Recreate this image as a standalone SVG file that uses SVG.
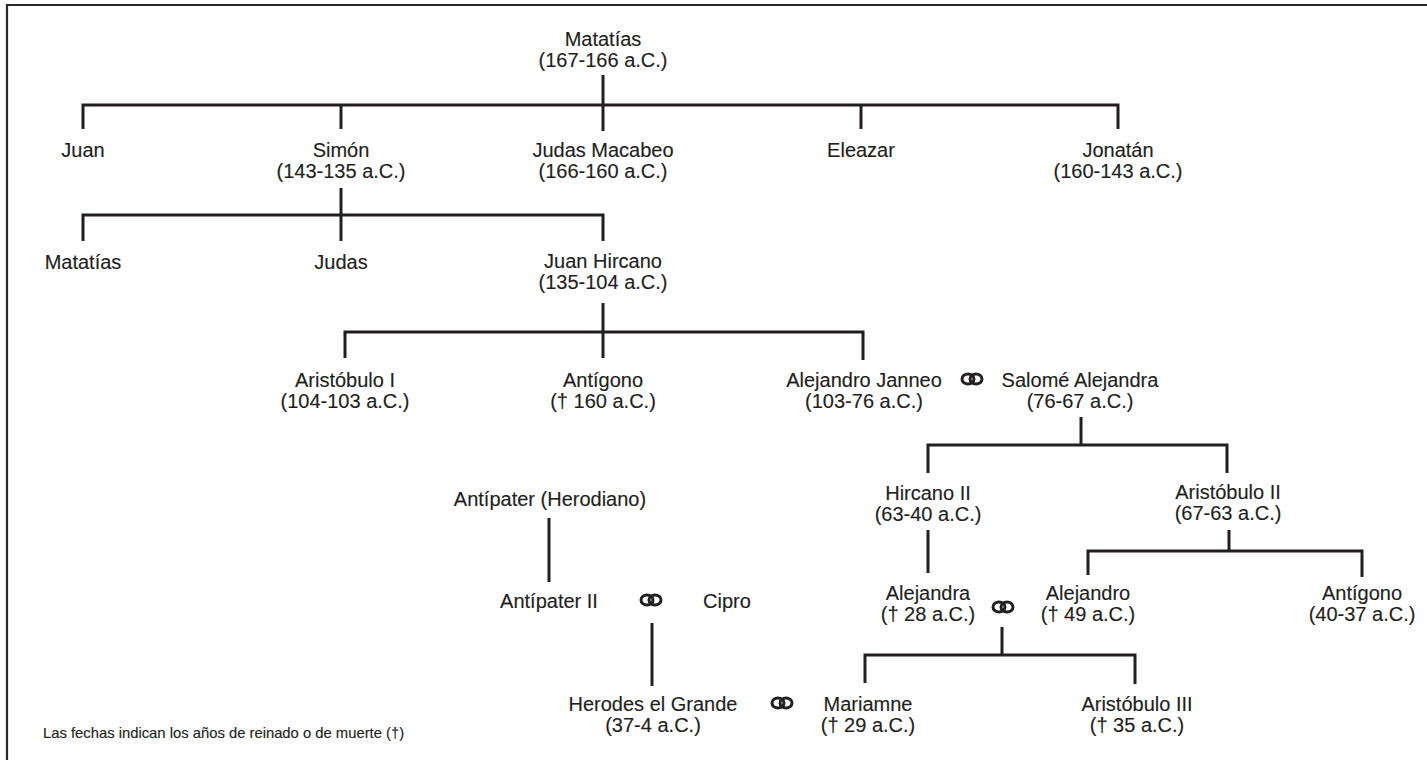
<svg xmlns="http://www.w3.org/2000/svg" width="1427" height="760" viewBox="0 0 1427 760">
<defs>
<style>
text{font-family:"Liberation Sans",Arial,sans-serif;font-size:20px;fill:#231f20;text-anchor:middle;stroke:#231f20;stroke-width:0.15}
.note{font-size:14.8px;text-anchor:start}
.c{fill:none;stroke:#231f20;stroke-width:3}
.frame{fill:none;stroke:#2a2a2a;stroke-width:2.2}
.ring{fill:none;stroke:#231f20;stroke-width:3}
</style>
<g id="rings-sym"><ellipse class="ring" cx="-4" cy="0" rx="6" ry="5"/><ellipse class="ring" cx="4" cy="0" rx="6" ry="5"/></g>
</defs>
<rect width="1427" height="760" fill="#fff"/>
<path class="frame" d="M7,762 V5 H1430"/>
<g id="connectors">
<path class="c" d="M603,75 V131"/>
<path class="c" d="M83,129 V105 H1118 V129"/>
<path class="c" d="M341,105 V129"/>
<path class="c" d="M861,105 V129"/>
<path class="c" d="M341,188 V241"/>
<path class="c" d="M83,241 V215 H603 V241"/>
<path class="c" d="M603,303 V358"/>
<path class="c" d="M345,358 V332 H863 V360"/>
<path class="c" d="M1081,417 V445"/>
<path class="c" d="M928,473 V445 H1227 V473"/>
<path class="c" d="M928,530 V573"/>
<path class="c" d="M1229,530 V551"/>
<path class="c" d="M1088,575 V551 H1362 V577"/>
<path class="c" d="M549,518 V582"/>
<path class="c" d="M652,623 V686"/>
<path class="c" d="M1002,627 V655"/>
<path class="c" d="M865,683 V655 H1135 V684"/>
</g>
<g id="matatias"><text x="603" y="46">Matatías</text><text x="603" y="67">(167-166 a.C.)</text></g>
<g id="juan"><text x="83" y="157">Juan</text></g>
<g id="simon"><text x="341" y="157">Simón</text><text x="341" y="178">(143-135 a.C.)</text></g>
<g id="judas-macabeo"><text x="603" y="157">Judas Macabeo</text><text x="603" y="178">(166-160 a.C.)</text></g>
<g id="eleazar"><text x="861" y="157">Eleazar</text></g>
<g id="jonatan"><text x="1118" y="157">Jonatán</text><text x="1118" y="178">(160-143 a.C.)</text></g>
<g id="matatias2"><text x="83" y="269">Matatías</text></g>
<g id="judas"><text x="341" y="269">Judas</text></g>
<g id="juan-hircano"><text x="603" y="268">Juan Hircano</text><text x="603" y="289">(135-104 a.C.)</text></g>
<g id="aristobulo1"><text x="345" y="387">Aristóbulo I</text><text x="345" y="408">(104-103 a.C.)</text></g>
<g id="antigono1"><text x="603" y="387">Antígono</text><text x="603" y="408">(† 160 a.C.)</text></g>
<g id="alejandro-janneo"><text x="864" y="387">Alejandro Janneo</text><text x="864" y="408">(103-76 a.C.)</text></g>
<g id="m1"><use href="#rings-sym" x="972" y="379"/></g>
<g id="salome"><text x="1080" y="387">Salomé Alejandra</text><text x="1080" y="408">(76-67 a.C.)</text></g>
<g id="hircano2"><text x="928" y="500">Hircano II</text><text x="928" y="521">(63-40 a.C.)</text></g>
<g id="aristobulo2"><text x="1228" y="499">Aristóbulo II</text><text x="1228" y="520">(67-63 a.C.)</text></g>
<g id="antipater"><text x="550" y="506">Antípater (Herodiano)</text></g>
<g id="antipater2"><text x="549" y="608">Antípater II</text></g>
<g id="m2"><use href="#rings-sym" x="651" y="600"/></g>
<g id="cipro"><text x="727" y="608">Cipro</text></g>
<g id="alejandra"><text x="928" y="600">Alejandra</text><text x="928" y="621">(† 28 a.C.)</text></g>
<g id="m3"><use href="#rings-sym" x="1003" y="607"/></g>
<g id="alejandro"><text x="1088" y="600">Alejandro</text><text x="1088" y="621">(† 49 a.C.)</text></g>
<g id="antigono2"><text x="1362" y="600">Antígono</text><text x="1362" y="621">(40-37 a.C.)</text></g>
<g id="herodes"><text x="653" y="711">Herodes el Grande</text><text x="653" y="732">(37-4 a.C.)</text></g>
<g id="m4"><use href="#rings-sym" x="782" y="703"/></g>
<g id="mariamne"><text x="868" y="711">Mariamne</text><text x="868" y="732">(† 29 a.C.)</text></g>
<g id="aristobulo3"><text x="1137" y="711">Aristóbulo III</text><text x="1137" y="732">(† 35 a.C.)</text></g>
<text class="note" x="43" y="738">Las fechas indican los años de reinado o de muerte (†)</text>
</svg>
